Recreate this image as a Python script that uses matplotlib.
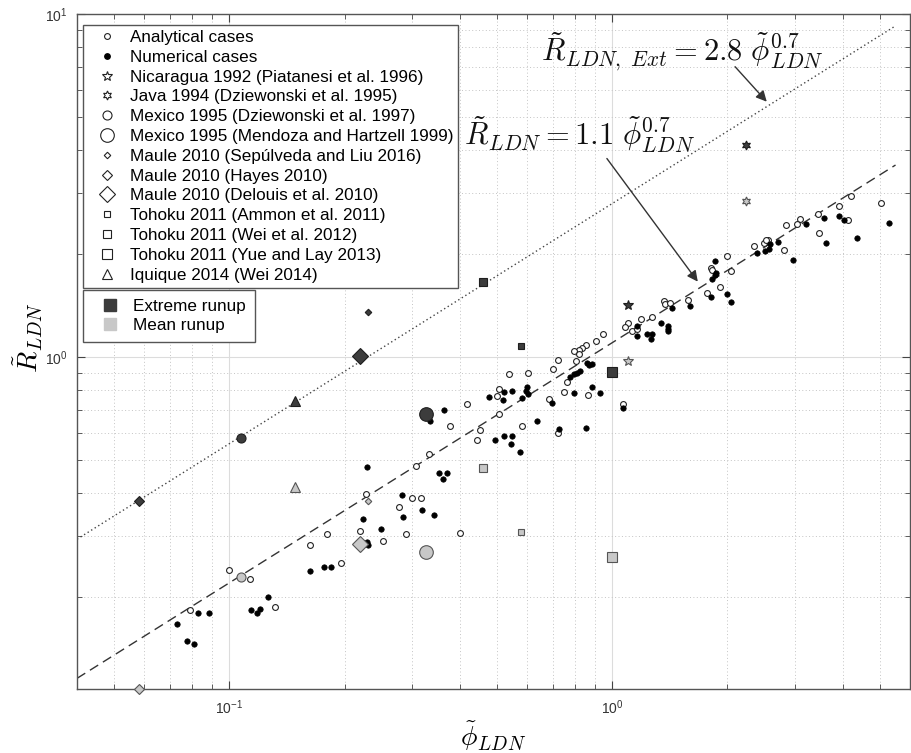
import numpy as np
import matplotlib
matplotlib.use("Agg")
import matplotlib.pyplot as plt
from matplotlib.lines import Line2D
from matplotlib.ticker import LogLocator, FuncFormatter, NullFormatter

plt.rcParams["font.family"] = ["Liberation Sans", "DejaVu Sans"]
plt.rcParams["mathtext.fontset"] = "cm"

# analytical cases (open circles)
phi_analytical = [5.05, 4.22, 3.91, 3.44, 3.10, 3.04, 2.85, 4.14, 3.47, 2.35, 2.50, 2.56, 2.52,
                  2.81, 1.99, 1.81, 1.82, 2.05, 1.91, 1.77, 1.58, 1.37, 1.375, 1.42, 1.27, 1.19,
                  1.10, 1.08, 1.13, 1.16, 0.947, 0.905, 0.854, 0.834, 0.817, 0.796, 0.817, 0.722,
                  0.805, 0.701, 0.538, 0.604, 0.762, 0.506, 0.50, 0.418, 0.686, 0.748, 0.864, 1.07,
                  0.376, 0.506, 0.453, 0.444, 0.582, 0.72, 0.333, 0.308, 0.228, 0.277, 0.30, 0.317,
                  0.220, 0.252, 0.289, 0.401, 0.180, 0.162, 0.196, 0.0996, 0.113, 0.079, 0.132]
R_analytical = [2.81, 2.95, 2.76, 2.61, 2.53, 2.44, 2.43, 2.50, 2.30, 2.10, 2.15, 2.20, 2.19,
                2.05, 1.97, 1.82, 1.79, 1.78, 1.60, 1.54, 1.47, 1.46, 1.43, 1.44, 1.31, 1.29,
                1.26, 1.22, 1.19, 1.21, 1.17, 1.11, 1.08, 1.06, 1.05, 1.04, 1.02, 0.98,
                0.973, 0.923, 0.892, 0.896, 0.844, 0.808, 0.77, 0.728, 0.753, 0.79, 0.775, 0.728,
                0.629, 0.681, 0.614, 0.574, 0.629, 0.599, 0.522, 0.482, 0.399, 0.366, 0.389, 0.389,
                0.310, 0.291, 0.305, 0.306, 0.305, 0.283, 0.251, 0.239, 0.225, 0.183, 0.186]

# numerical cases (filled dots)
phi_numerical = [5.30, 4.36, 4.04, 3.91, 3.57, 3.61, 3.21, 2.96, 2.72, 2.58, 2.57, 2.51, 2.39,
                 1.86, 1.87, 1.86, 1.82, 1.81, 1.99, 2.05, 1.60, 1.43, 1.345, 1.40, 1.40, 1.40,
                 1.27, 1.23, 1.26, 1.16, 1.16, 0.885, 0.859, 0.871, 0.825, 0.810, 0.796, 0.777,
                 0.888, 0.929, 0.794, 0.697, 0.599, 0.596, 0.602, 0.583, 0.547, 0.523, 0.518, 0.477,
                 0.364, 0.335, 0.636, 0.726, 0.854, 0.495, 0.523, 0.548, 0.545, 0.575, 1.07,
                 0.352, 0.370, 0.361, 0.229, 0.283, 0.319, 0.342, 0.284, 0.224, 0.249, 0.229, 0.230,
                 0.162, 0.177, 0.184, 0.126, 0.114, 0.118, 0.120, 0.083, 0.0887, 0.073, 0.0777, 0.0807]
R_numerical = [2.45, 2.23, 2.50, 2.58, 2.54, 2.15, 2.44, 1.92, 2.16, 2.14, 2.07, 2.04, 2.01,
               1.91, 1.76, 1.73, 1.69, 1.50, 1.53, 1.45, 1.41, 1.39, 1.26, 1.235, 1.21, 1.19,
               1.17, 1.165, 1.13, 1.23, 1.15, 0.952, 0.963, 0.948, 0.910, 0.900, 0.890, 0.876,
               0.819, 0.784, 0.784, 0.733, 0.816, 0.798, 0.782, 0.758, 0.798, 0.791, 0.751, 0.764,
               0.699, 0.652, 0.652, 0.616, 0.621, 0.573, 0.590, 0.590, 0.558, 0.529, 0.710,
               0.460, 0.460, 0.440, 0.479, 0.397, 0.359, 0.346, 0.342, 0.337, 0.316, 0.288, 0.282,
               0.237, 0.244, 0.244, 0.199, 0.183, 0.179, 0.184, 0.179, 0.179, 0.167, 0.149, 0.146]

# real events: extreme and mean runup
event_labels = ["Nicaragua 1992 (Piatanesi et al. 1996)",
                "Java 1994 (Dziewonski et al. 1995)",
                "Mexico 1995 (Dziewonski et al. 1997)",
                "Mexico 1995 (Mendoza and Hartzell 1999)",
                "Maule 2010 (Sepúlveda and Liu 2016)",
                "Maule 2010 (Hayes 2010)",
                "Maule 2010 (Delouis et al. 2010)",
                "Tohoku 2011 (Ammon et al. 2011)",
                "Tohoku 2011 (Wei et al. 2012)",
                "Tohoku 2011 (Yue and Lay 2013)",
                "Iquique 2014 (Wei 2014)"]
event_phi = [1.10, 2.24, 0.107, 0.327, 0.230, 0.058, 0.219, 0.578, 0.459, 1.0, 0.148]
R_extreme = [1.42, 4.15, 0.579, 0.681, 1.35, 0.379, 1.007, 1.077, 1.654, 0.906, 0.744]
R_mean = [0.975, 2.84, 0.229, 0.270, 0.379, 0.1074, 0.284, 0.308, 0.474, 0.261, 0.419]

# fitted power laws R = c * phi^0.7
fit_phi = np.array([0.04, 5.5])
c_mean = 1.1
c_ext = 2.8
fit_exp = 0.7

# marker style and size per event
event_markers = ["*", (6, 1, 0), "o", "o", "D", "D", "D", "s", "s", "s", "^"]
event_sizes = [7, 6.5, 6.5, 9.8, 3.3, 5.3, 7.8, 3.9, 5.5, 7.8, 7.5]

dark = "#3c3c3c"
light = "#c8c8c8"

fig = plt.figure(figsize=(9.11, 7.53), dpi=100)
ax = fig.add_axes([77 / 911, 1 - 689 / 753, 833 / 911, 675 / 753])
ax.set_xscale("log")
ax.set_yscale("log")
ax.set_xlim(0.04, 6.0)
ax.set_ylim(0.1076, 10)

ax.plot(fit_phi, c_mean * fit_phi ** fit_exp, color="#333333", lw=1.0,
        dashes=(7, 4), zorder=2)
ax.plot(fit_phi, c_ext * fit_phi ** fit_exp, color="#444444", lw=1.0,
        ls=(0, (1, 2)), zorder=2)

ax.plot(phi_analytical, R_analytical, "o", ms=4.2, mfc="white", mec="#222222",
        mew=0.8, zorder=3)
ax.plot(phi_numerical, R_numerical, "o", ms=3.9, mfc="black", mec="black",
        mew=0.5, zorder=3)

for i in range(len(event_labels)):
    ax.plot(event_phi[i], R_extreme[i], ls="none", marker=event_markers[i],
            ms=event_sizes[i], mfc=dark, mec="#1e1e1e", mew=0.8, zorder=4)
    ax.plot(event_phi[i], R_mean[i], ls="none", marker=event_markers[i],
            ms=event_sizes[i], mfc=light, mec="#555555", mew=0.8, zorder=4,
            clip_on=False)

# axes cosmetics
ax.set_axisbelow(True)
ax.grid(True, which="major", color="#dcdcdc", lw=0.8, ls="-")
ax.grid(True, which="minor", color="#c4c4c4", lw=0.7, ls=(0, (1, 2.5)))
ax.xaxis.set_major_locator(LogLocator(base=10))
ax.yaxis.set_major_locator(LogLocator(base=10))
ax.xaxis.set_minor_locator(LogLocator(base=10, subs=range(2, 10)))
ax.yaxis.set_minor_locator(LogLocator(base=10, subs=range(2, 10)))
fmt = FuncFormatter(lambda v, p: r"$\mathregular{10^{%d}}$" % round(np.log10(v)))
ax.xaxis.set_major_formatter(fmt)
ax.yaxis.set_major_formatter(fmt)
ax.xaxis.set_minor_formatter(NullFormatter())
ax.yaxis.set_minor_formatter(NullFormatter())
ax.tick_params(which="both", direction="in", top=True, right=True, color="#444444",
               labelsize=10, labelcolor="#333333", pad=7)
ax.tick_params(which="major", length=6, width=0.8)
ax.tick_params(which="minor", length=3.5, width=0.6)
for s in ax.spines.values():
    s.set_color("#555555")
    s.set_linewidth(1.0)

ax.set_xlabel(r"$\tilde{\phi}_{LDN}$", fontsize=20)
ax.xaxis.set_label_coords(0.5, -0.045)
ax.set_ylabel(r"$\tilde{R}_{LDN}$", fontsize=20)
ax.yaxis.set_label_coords(-0.038, 0.52)

# annotations of the two fits
ax.text(0.82, 4.44, r"$\tilde{R}_{LDN} = 1.1\ \tilde{\phi}^{0.7}_{LDN}$",
        fontsize=22, ha="center", va="center", color="#111111", zorder=6)
ax.annotate("", xy=(1.674, 1.658), xytext=(0.969, 3.79),
            arrowprops=dict(arrowstyle="-|>", color="#333333", lw=1.0,
                            mutation_scale=16, shrinkA=0, shrinkB=0), zorder=6)
ax.text(1.523, 7.8, r"$\tilde{R}_{LDN,\ Ext} = 2.8\ \tilde{\phi}^{0.7}_{LDN}$",
        fontsize=22, ha="center", va="center", color="#111111", zorder=6)
ax.annotate("", xy=(2.535, 5.55), xytext=(2.095, 7.02),
            arrowprops=dict(arrowstyle="-|>", color="#333333", lw=1.0,
                            mutation_scale=16, shrinkA=0, shrinkB=0), zorder=6)

# legends
handles = [Line2D([], [], ls="none", marker="o", ms=4.2, mfc="white", mec="#222222", mew=0.8),
           Line2D([], [], ls="none", marker="o", ms=3.9, mfc="black", mec="black")]
for m, s in zip(event_markers, event_sizes):
    handles.append(Line2D([], [], ls="none", marker=m, ms=s, mfc="white",
                          mec="#222222", mew=0.8))
labels = ["Analytical cases", "Numerical cases"] + event_labels
leg1 = ax.legend(handles, labels, loc="upper left", bbox_to_anchor=(0.0068, 0.9837),
                 borderaxespad=0, fontsize=12.3, numpoints=1, handlelength=2.2,
                 handletextpad=0.26, borderpad=0.3, labelspacing=0.28,
                 fancybox=False, framealpha=1, edgecolor="#555555")
leg1.get_frame().set_linewidth(1.0)
ax.add_artist(leg1)

h2 = [Line2D([], [], ls="none", marker="s", ms=8, mfc=dark, mec=dark),
      Line2D([], [], ls="none", marker="s", ms=8, mfc=light, mec=light)]
leg2 = ax.legend(h2, ["Extreme runup", "Mean runup"], loc="upper left",
                 bbox_to_anchor=(0.0068, 0.591), borderaxespad=0, fontsize=12.3,
                 numpoints=1, handlelength=2.2, handletextpad=0.26, borderpad=0.5,
                 labelspacing=0.28, fancybox=False, framealpha=1, edgecolor="#555555")
leg2.get_frame().set_linewidth(1.0)

fig.savefig("out.png", dpi=100)
